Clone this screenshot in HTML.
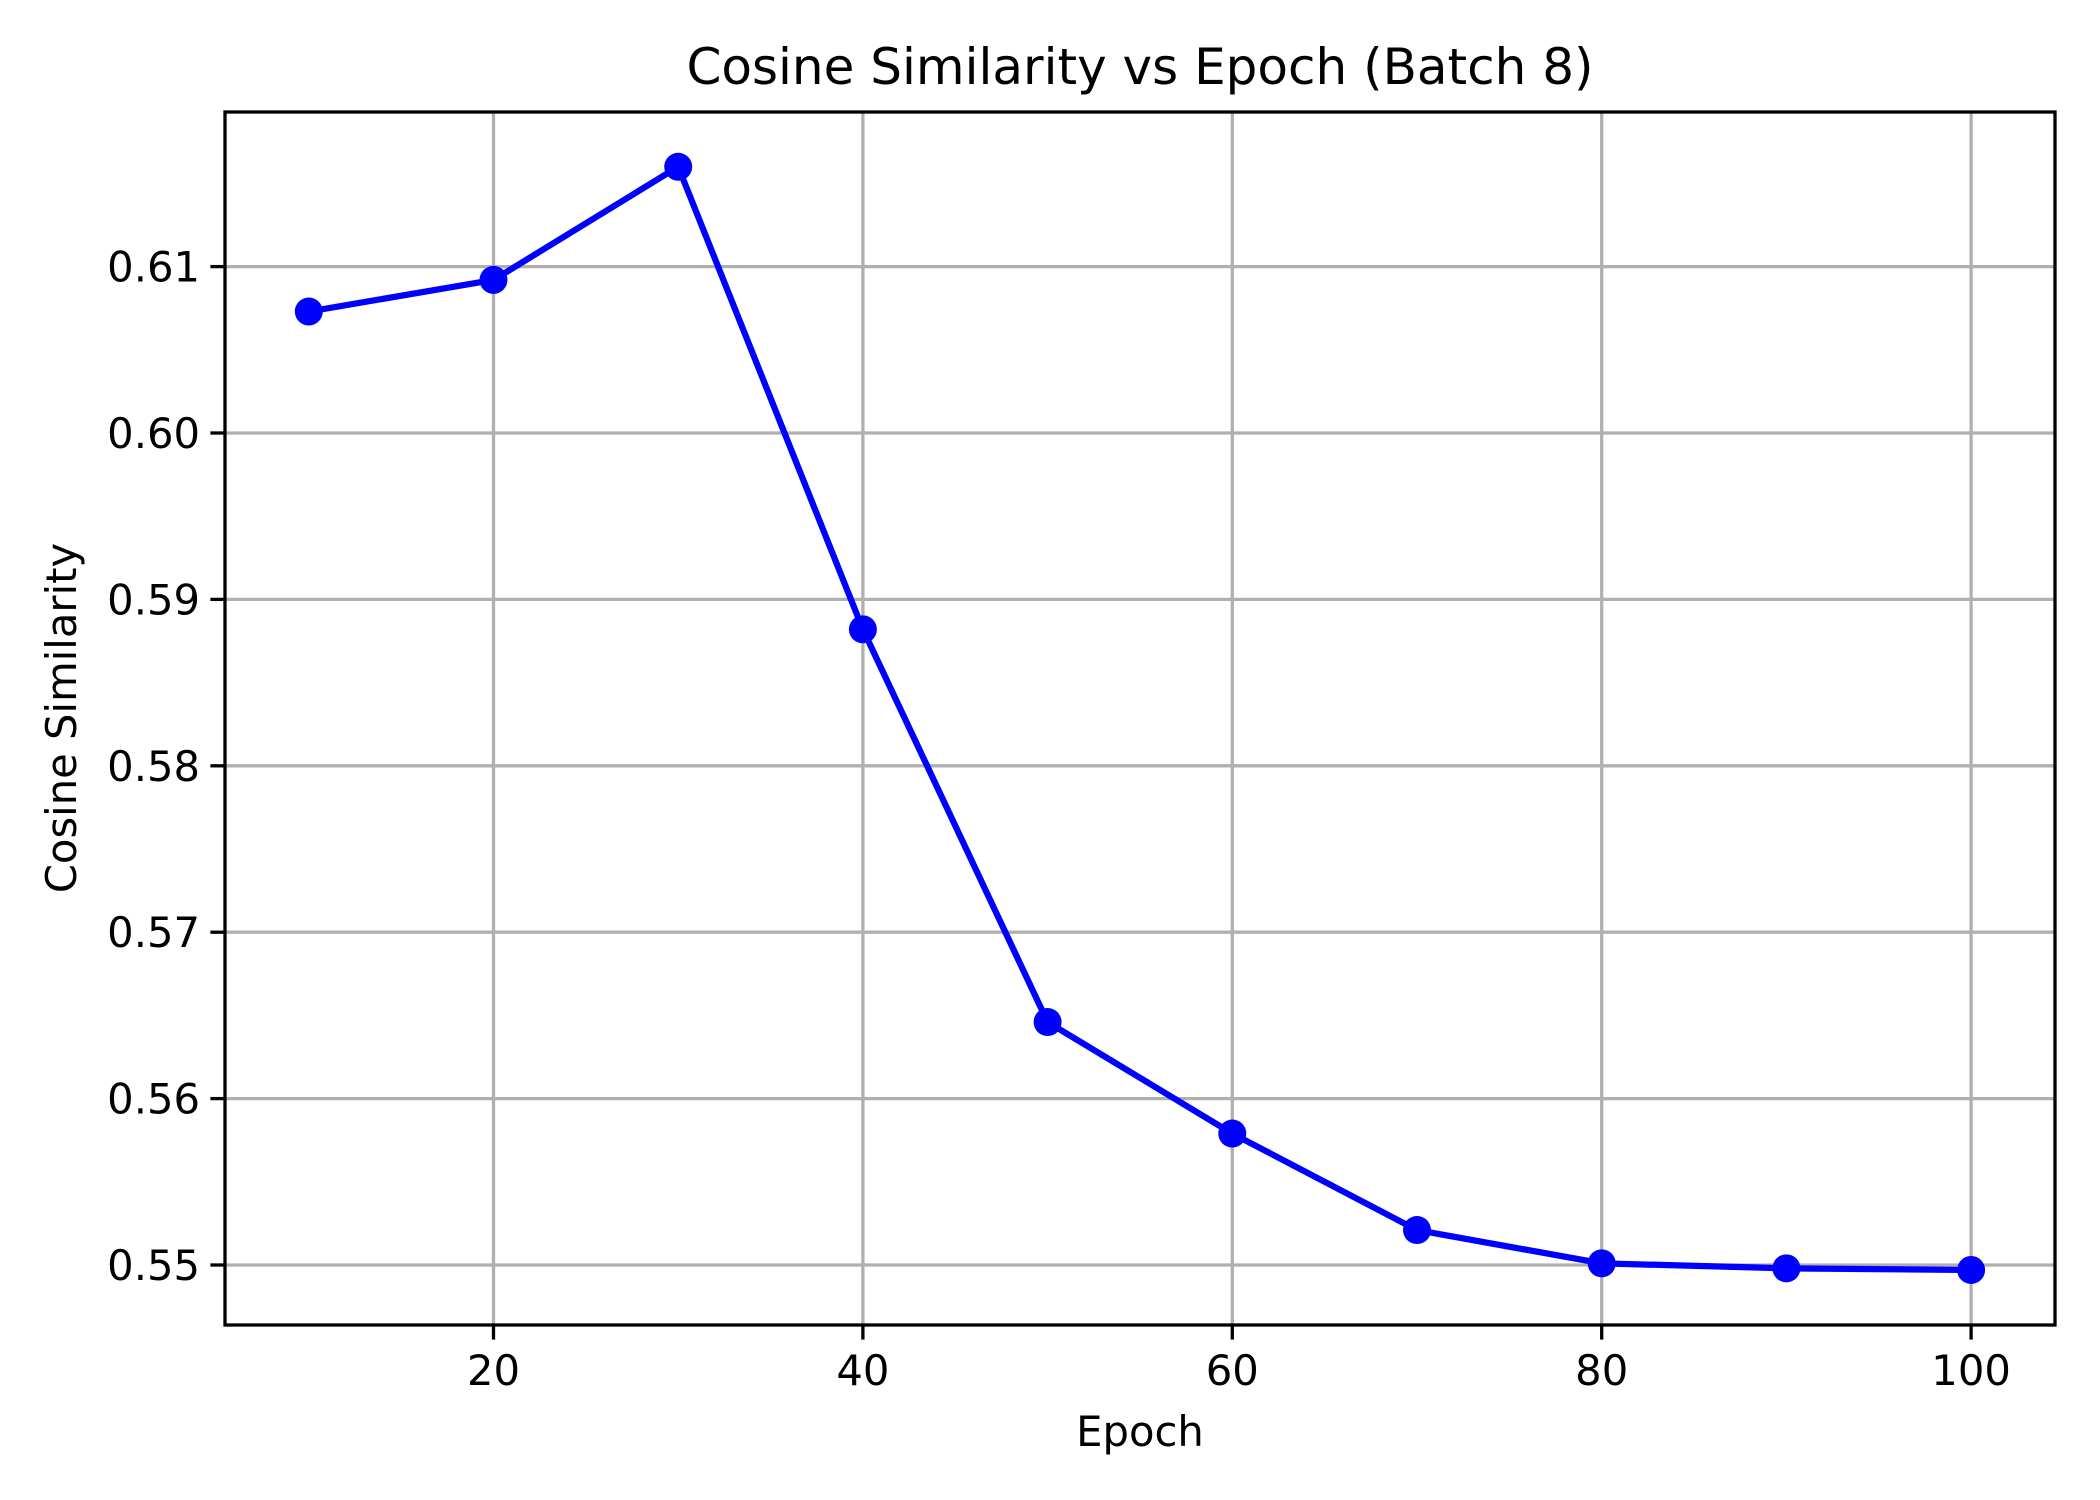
<!DOCTYPE html>
<html><head><meta charset="utf-8"><style>
html,body{margin:0;padding:0;background:#fff;}
svg{display:block;font-family:"DejaVu Sans","Liberation Sans",sans-serif;}
</style></head><body>
<svg id="chart" width="2100" height="1500" viewBox="0 0 2100 1500" xmlns="http://www.w3.org/2000/svg">
<rect width="2100" height="1500" fill="#fff"/>
<g id="grid"></g>
<g id="ticks"></g>
<g id="series"></g>
<rect x="225" y="112" width="1830" height="1213" fill="none" stroke="#000" stroke-width="3.3"/>
<text x="1140" y="84" font-size="50" text-anchor="middle">Cosine Similarity vs Epoch (Batch 8)</text>
<text x="1140" y="1446" font-size="41.7" text-anchor="middle">Epoch</text>
<text x="0" y="0" font-size="41.7" text-anchor="middle" transform="translate(76,718) rotate(-90)">Cosine Similarity</text>
</svg>
<script>
const epochs = [10,20,30,40,50,60,70,80,90,100];
const similarity = [0.6073,0.6092,0.6160,0.5882,0.5646,0.5579,0.5521,0.5501,0.5498,0.5497];
const xTicks = [20,40,60,80,100];
const yTicks = [0.55,0.56,0.57,0.58,0.59,0.60,0.61];
const yTickLabels = ["0.55","0.56","0.57","0.58","0.59","0.60","0.61"];

const L=225,R=2055,T=112,B=1325;
function xs(v){return 308.8+(v-10)*18.47;}
function ys(v){return 1265-(v-0.55)*16640;}
const NS="http://www.w3.org/2000/svg";
function mk(tag,attrs,parent){const e=document.createElementNS(NS,tag);for(const k in attrs)e.setAttribute(k,attrs[k]);parent.appendChild(e);return e;}
const grid=document.getElementById('grid'),ticks=document.getElementById('ticks'),series=document.getElementById('series');
xTicks.forEach(v=>{
  const x=xs(v);
  const g=mk('line',{x1:x,x2:x,y1:T,y2:B,stroke:'#b0b0b0','stroke-width':3.3},grid);
  
  
  const t=mk('line',{x1:x,x2:x,y1:B,y2:B+14.6,stroke:'#000','stroke-width':3.3},ticks);
  
  
  const l=mk('text',{x:x,y:B+60,'font-size':41.7,'text-anchor':'middle'},ticks);
  l.textContent=v;
  
  
});
yTicks.forEach((v,i)=>{
  const y=ys(v);
  const g=mk('line',{x1:L,x2:R,y1:y,y2:y,stroke:'#b0b0b0','stroke-width':3.3},grid);
  
  
  const t=mk('line',{x1:L-14.6,x2:L,y1:y,y2:y,stroke:'#000','stroke-width':3.3},ticks);
  
  
  const l=mk('text',{x:L-25,y:y+15,'font-size':41.7,'text-anchor':'end'},ticks);
  l.textContent=yTickLabels[i];
  
  
});
const pts=epochs.map((e,i)=>xs(e)+','+ys(similarity[i])).join(' ');
const line=mk('polyline',{points:pts,fill:'none',stroke:'#0000ff','stroke-width':6.25,'stroke-linejoin':'round','stroke-linecap':'square'},series);


epochs.forEach((e,i)=>{
  const c=mk('circle',{cx:xs(e),cy:ys(similarity[i]),r:14,fill:'#0000ff'},series);
  
  
});
</script>
</body></html>
